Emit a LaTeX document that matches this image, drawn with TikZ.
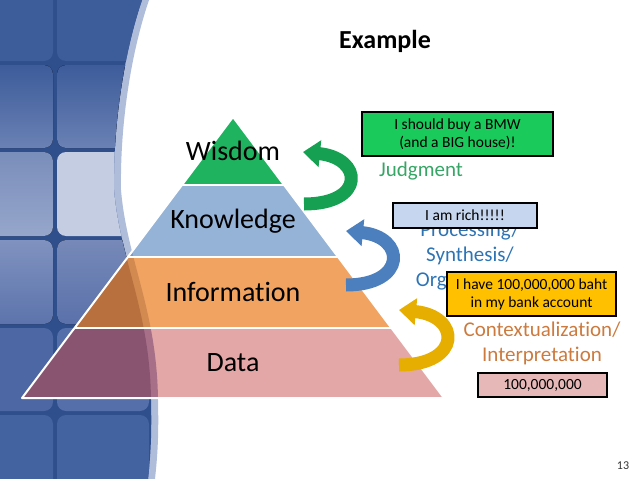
\documentclass[tikz,border=0pt]{standalone}
\usepackage{fontspec}
\setmainfont{Carlito}[Ligatures=NoCommon]
\usetikzlibrary{arrows.meta, positioning}
\definecolor{bandblue}{HTML}{3D5C9A}
\definecolor{bandgap}{HTML}{2F4E8C}
\definecolor{bandstrip}{HTML}{AFBCDA}
\definecolor{tilelow}{HTML}{6A81B4}
\definecolor{tilemid}{HTML}{7A8EBB}
\definecolor{tilemidb}{HTML}{96A6CB}
\definecolor{tilelight}{HTML}{C4CDE2}
\definecolor{tilerowa}{HTML}{8092BF}
\definecolor{tilerowb}{HTML}{5C74AC}
\definecolor{tilerowc}{HTML}{7689B8}
\definecolor{tilerowd}{HTML}{5A71AA}
\definecolor{tilelowa}{HTML}{4C67A4}
\definecolor{tilelowb}{HTML}{546FAA}
\definecolor{tilebot}{HTML}{4262A0}
\definecolor{wiscol}{HTML}{20B35F}
\definecolor{knowcol}{HTML}{95B3D7}
\definecolor{infocol}{HTML}{F1A462}
\definecolor{infodark}{HTML}{B8703F}
\definecolor{infomid}{HTML}{D38A50}
\definecolor{datacol}{HTML}{E2A7A6}
\definecolor{datadark}{HTML}{885470}
\definecolor{datamid}{HTML}{A87088}
\definecolor{knowdark}{HTML}{7B97C6}
\definecolor{judgecol}{HTML}{36A565}
\definecolor{proccol}{HTML}{2E74B5}
\definecolor{contcol}{HTML}{CC7A3E}
\definecolor{bmwfill}{HTML}{1ACB5C}
\definecolor{richfill}{HTML}{C6D6EF}
\definecolor{bahtfill}{HTML}{FFC000}
\definecolor{numfill}{HTML}{E6B8B7}
\definecolor{greenarrow}{HTML}{16A152}
\definecolor{bluearrow}{HTML}{4B7FBD}
\definecolor{goldarrow}{HTML}{E5AE00}
\newcommand{\bandpath}{(0,0) -- (142,0) .. controls (125,50) and (113,120) .. (114,190) .. controls (120,260) and (150,310) .. (151,400) .. controls (152,440) and (150,460) .. (148,479) -- (0,479) -- cycle}

\begin{document}
\begin{tikzpicture}[
  x=1pt, y=-1pt,
  tile/.style={rounded corners=9pt},
  sepline/.style={draw=white, line width=2pt, line join=round},
  laylabel/.style={font=\fontsize{28}{30}\selectfont, inner sep=0pt},
  sidetext/.style={font=\fontsize{21}{25}\selectfont, align=center, inner sep=0pt},
  note/.style={draw=black, line width=1.1pt, inner sep=0pt, align=center,
               font=\fontsize{15.5}{18}\selectfont},
  curvarrow/.style={line width=13pt, -{Triangle[width=26pt, length=17pt]}},
]
  \useasboundingbox (0,0) rectangle (638,479);
  % background band with tiles
  \fill[bandstrip, xshift=7pt] \bandpath;
  \begin{scope}
    \clip \bandpath;
    \fill[bandgap] (0,0) rectangle (180,479);
    \fill[tile, bandblue] (-20,-30) rectangle (53,61);
    \fill[tile, bandblue] (57,-30) rectangle (149,61);
    \fill[tile, top color=bandblue, bottom color=tilelow] (-20,65) rectangle (53,148);
    \fill[tile, top color=bandblue, bottom color=tilelow] (57,65) rectangle (149,148);
    \fill[tile, top color=tilemid, bottom color=tilemidb] (-20,152) rectangle (53,236);
    \fill[tile, tilelight] (57,152) rectangle (149,236);
    \fill[tile, top color=tilerowa, bottom color=tilerowb] (-20,240) rectangle (53,324);
    \fill[tile, top color=tilerowc, bottom color=tilerowd] (57,240) rectangle (149,324);
    \fill[tile, tilelowa] (-20,328) rectangle (53,411);
    \fill[tile, tilelowb] (57,328) rectangle (149,411);
    \fill[tile, tilelowb] (153,328) rectangle (200,411);
    \fill[tile, tilebot] (-20,415) rectangle (53,510);
    \fill[tile, tilebot] (57,415) rectangle (149,510);
    \fill[tile, tilebot] (153,415) rectangle (200,510);
  \end{scope}
  % pyramid corners
  \coordinate (apex) at (233,117);
  \coordinate (wl) at (181.9,185);
  \coordinate (wr) at (284.1,185);
  \coordinate (kl) at (127.9,257);
  \coordinate (kr) at (338.1,257);
  \coordinate (il) at (74.6,328);
  \coordinate (ir) at (391.4,328);
  \coordinate (dl) at (22,398);
  \coordinate (dr) at (444,398);
  % pyramid layers
  \fill[wiscol] (apex) -- (wr) -- (wl) -- cycle;
  \fill[knowcol] (wl) -- (wr) -- (kr) -- (kl) -- cycle;
  \fill[infocol] (kl) -- (kr) -- (ir) -- (il) -- cycle;
  \fill[datacol] (il) -- (ir) -- (dr) -- (dl) -- cycle;
  \begin{scope}
    \clip[xshift=7pt] \bandpath;
    \fill[knowdark] (wl) -- (wr) -- (kr) -- (kl) -- cycle;
    \fill[infomid] (kl) -- (kr) -- (ir) -- (il) -- cycle;
    \fill[datamid] (il) -- (ir) -- (dr) -- (dl) -- cycle;
  \end{scope}
  \begin{scope}
    \clip \bandpath;
    \fill[infodark] (kl) -- (kr) -- (ir) -- (il) -- cycle;
    \fill[datadark] (il) -- (ir) -- (dr) -- (dl) -- cycle;
  \end{scope}
  \draw[sepline] (apex) -- (dr) -- (dl) -- cycle;
  \draw[sepline] (wl) -- (wr);
  \draw[sepline] (kl) -- (kr);
  \draw[sepline] (il) -- (ir);
  % layer labels
  \node[laylabel] (wisdom) at (233,151) {Wisdom};
  \node[laylabel] (knowledge) at (233,221) {Knowledge};
  \node[laylabel] (information) at (233,292) {Information};
  \node[laylabel] (data) at (233,363) {Data};
  % title and page number
  \node[font=\fontsize{26}{30}\selectfont\bfseries] (title) at (385,41) {Example};
  \node[font=\fontsize{12}{14}\selectfont, text=black!80] (pagenum) at (623,466) {13};
  % curved arrows
  \coordinate (gtail) at (304,204);
  \coordinate (ghead) at (303,152);
  \coordinate (btail) at (346,285);
  \coordinate (bhead) at (346,231);
  \coordinate (ytail) at (399,365);
  \coordinate (yhead) at (399,310);
  \draw[curvarrow, greenarrow] (gtail) .. controls +(62,0) and +(60,6) .. (ghead);
  \draw[curvarrow, bluearrow] (btail) .. controls +(61,0) and +(60,6) .. (bhead);
  \draw[curvarrow, goldarrow] (ytail) .. controls +(63,0) and +(62,6) .. (yhead);
  % side labels
  \node[sidetext, text=judgecol] (judgment) at (421,171) {Judgment};
  \node[sidetext, text=proccol] (processing) at (470,256) {Processing/\\Synthesis/\\Organization};
  \node[sidetext, text=contcol] (context) at (542,343) {Contextualization/\\Interpretation};
  % example boxes
  \node[note, fill=bmwfill, minimum width=191pt, minimum height=44pt] (bmwbox) at (457.5,134) {I should buy a BMW\\(and a BIG house)!};
  \node[note, fill=richfill, minimum width=144pt, minimum height=25pt] (richbox) at (465,215.5) {I am rich!!!!!};
  \node[note, fill=bahtfill, minimum width=169pt, minimum height=44pt] (bahtbox) at (531.5,294) {I have 100,000,000 baht\\in my bank account};
  \node[note, fill=numfill, minimum width=129pt, minimum height=24pt] (numbox) at (542.5,385) {100,000,000};
\end{tikzpicture}
\end{document}
